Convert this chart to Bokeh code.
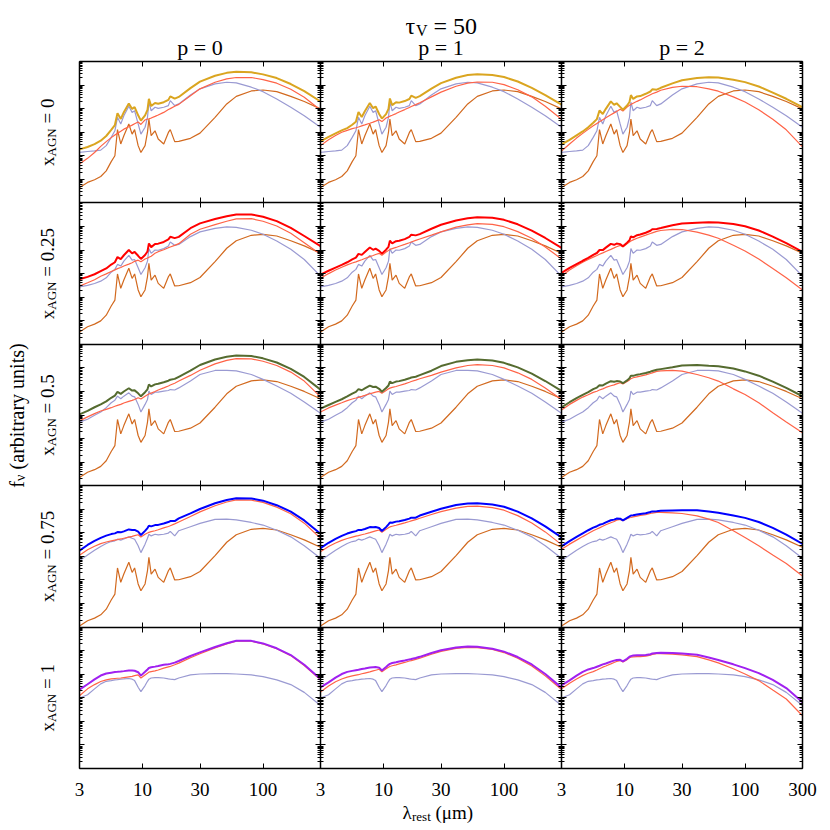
import numpy as np
from bokeh.plotting import figure
from bokeh.models import (Range1d, LogScale, LogAxis, FixedTicker, Label,
                          CustomJSTickFormatter)
from bokeh.embed import file_html
from bokeh.resources import INLINE

# ---------------- data (log10 of f_nu, arbitrary units; each panel spans 6 decades) ----------
wavelength = [3, 3.5, 4, 4.5, 5, 5.5, 5.9, 6.2, 6.6, 7.0, 7.7, 8.2, 8.6, 9.2, 9.7,
              10.5, 11.0, 11.3, 11.8, 12.7, 13.5, 15, 16.4, 17, 18.5, 20, 25, 30,
              40, 50, 60, 80, 100, 130, 170, 220, 300]

p_labels = ["0", "1", "2"]
xagn_labels = ["0", "0.25", "0.5", "0.75", "1"]
x_tick_values = [3, 10, 30, 100, 300]
x_tick_labels = ["3", "10", "30", "100", "300"]

sb_template = [0.65, 0.87, 0.98, 1.12, 1.36, 1.75, 2.0, 3.11, 2.5, 2.85, 3.35, 2.92, 3.11,
               2.43, 2.14, 2.43, 3.0, 3.56, 2.85, 3.06, 2.71, 2.5, 2.99, 3.11, 2.6, 2.61,
               2.74, 2.96, 3.63, 4.2, 4.52, 4.75, 4.79, 4.72, 4.52, 4.3, 3.99]
sb_row_offset = [0.0, -0.125, -0.30, -0.60, None]

lav_row0 = [2.14, 2.18, 2.21, 2.24, 2.43, 2.78, 3.06, 3.63, 3.35, 3.70, 4.10, 3.84, 3.91,
            3.35, 2.92, 3.21, 3.63, 4.27, 3.91, 4.06, 4.01, 4.06, 4.13, 4.34, 4.13, 4.20,
            4.58, 4.84, 5.05, 5.12, 5.09, 4.91, 4.72, 4.41, 4.06, 3.70, 3.21]
lav_row1 = [2.44, 2.50, 2.58, 2.68, 2.82, 3.06, 3.18, 3.39, 3.32, 3.53, 3.77, 3.57, 3.60,
            3.25, 2.96, 3.25, 3.53, 4.06, 3.86, 4.00, 3.99, 4.06, 4.17, 4.34, 4.20, 4.24,
            4.57, 4.77, 4.92, 4.98, 4.96, 4.84, 4.67, 4.38, 4.03, 3.60, 2.89]
lav_row2 = [2.70, 2.82, 2.99, 3.13, 3.31, 3.52, 3.63, 3.80, 3.69, 3.80, 3.94, 3.80, 3.77,
            3.45, 3.13, 3.45, 3.66, 4.01, 3.87, 3.97, 3.97, 4.01, 4.04, 4.08, 4.06, 4.15,
            4.44, 4.72, 4.89, 4.89, 4.87, 4.72, 4.51, 4.23, 3.92, 3.55, 3.07]
lav_row3 = [2.81, 3.06, 3.26, 3.42, 3.55, 3.63, 3.66, 3.73, 3.69, 3.74, 3.83, 3.77, 3.73,
            3.45, 3.16, 3.52, 3.77, 3.94, 3.87, 3.94, 3.91, 3.94, 3.99, 4.06, 3.87, 4.09,
            4.26, 4.40, 4.57, 4.58, 4.55, 4.44, 4.33, 4.11, 3.83, 3.45, 2.92]
lav_row4 = [2.99, 3.13, 3.38, 3.59, 3.70, 3.73, 3.76, 3.77, 3.79, 3.80, 3.82, 3.79, 3.73,
            3.45, 3.26, 3.52, 3.70, 3.79, 3.84, 3.86, 3.86, 3.84, 3.80, 3.79, 3.77, 3.84,
            3.97, 4.01, 4.03, 4.03, 4.01, 3.97, 3.90, 3.76, 3.56, 3.23, 2.67]

tom_r0_p0 = [1.65, 1.89, 2.14, 2.40, 2.60, 2.77, 2.88, 2.95, 3.04, 3.13, 3.23, 3.30, 3.36,
             3.43, 3.33, 3.52, 3.56, 3.57, 3.60, 3.67, 3.73, 3.84, 3.96, 4.00, 4.10, 4.18,
             4.55, 4.84, 5.12, 5.26, 5.32, 5.32, 5.23, 5.08, 4.82, 4.48, 3.94]
tom_r0_p1 = [2.43, 2.68, 2.86, 3.00, 3.08, 3.15, 3.19, 3.22, 3.27, 3.31, 3.38, 3.43, 3.47,
             3.53, 3.45, 3.60, 3.65, 3.68, 3.72, 3.79, 3.86, 3.96, 4.05, 4.09, 4.17, 4.25,
             4.50, 4.70, 4.95, 5.08, 5.13, 5.12, 5.02, 4.80, 4.50, 4.10, 3.55]
tom_r0_p2 = [2.20, 2.50, 2.75, 2.95, 3.12, 3.27, 3.37, 3.44, 3.53, 3.61, 3.74, 3.82, 3.88,
             3.97, 3.90, 4.07, 4.14, 4.18, 4.23, 4.31, 4.37, 4.49, 4.59, 4.63, 4.70, 4.78,
             4.90, 4.95, 4.93, 4.84, 4.74, 4.50, 4.28, 3.95, 3.55, 3.10, 2.38]
tom_r1_p0 = [2.47, 2.61, 2.74, 2.89, 2.99, 3.09, 3.16, 3.21, 3.26, 3.32, 3.40, 3.46, 3.52,
             3.57, 3.50, 3.62, 3.66, 3.69, 3.74, 3.86, 3.93, 4.01, 4.10, 4.13, 4.20, 4.27,
             4.67, 4.88, 5.08, 5.22, 5.32, 5.33, 5.22, 5.02, 4.71, 4.31, 3.82]
tom_r1_p1 = [2.80, 3.00, 3.15, 3.27, 3.37, 3.45, 3.50, 3.54, 3.59, 3.64, 3.72, 3.77, 3.81,
             3.86, 3.78, 3.92, 3.98, 4.02, 4.06, 4.11, 4.16, 4.24, 4.31, 4.34, 4.41, 4.47,
             4.63, 4.77, 4.97, 5.07, 5.12, 5.09, 4.99, 4.78, 4.50, 4.13, 3.62]
tom_r1_p2 = [2.90, 3.15, 3.33, 3.48, 3.60, 3.70, 3.77, 3.82, 3.88, 3.94, 4.03, 4.09, 4.14,
             4.20, 4.13, 4.27, 4.34, 4.38, 4.43, 4.50, 4.55, 4.63, 4.70, 4.73, 4.79, 4.83,
             4.88, 4.87, 4.76, 4.63, 4.50, 4.20, 3.96, 3.62, 3.22, 2.82, 2.30]
tom_r2_p0 = [2.75, 2.92, 3.06, 3.17, 3.24, 3.31, 3.37, 3.41, 3.45, 3.51, 3.58, 3.62, 3.66,
             3.73, 3.68, 3.80, 3.86, 3.89, 3.93, 4.00, 4.06, 4.15, 4.23, 4.27, 4.35, 4.44,
             4.68, 4.90, 5.17, 5.32, 5.39, 5.38, 5.28, 5.10, 4.82, 4.44, 3.77]
tom_r2_p1 = [3.13, 3.30, 3.42, 3.52, 3.61, 3.68, 3.72, 3.75, 3.79, 3.83, 3.90, 3.94, 3.97,
             4.00, 3.92, 4.04, 4.11, 4.14, 4.17, 4.21, 4.25, 4.32, 4.39, 4.42, 4.48, 4.54,
             4.68, 4.82, 5.00, 5.10, 5.14, 5.10, 5.00, 4.79, 4.51, 4.15, 3.66]
tom_r2_p2 = [3.21, 3.45, 3.62, 3.76, 3.86, 3.96, 4.01, 4.06, 4.11, 4.17, 4.24, 4.28, 4.32,
             4.37, 4.32, 4.42, 4.49, 4.54, 4.58, 4.62, 4.65, 4.70, 4.76, 4.79, 4.85, 4.87,
             4.89, 4.86, 4.72, 4.58, 4.44, 4.11, 3.87, 3.52, 3.10, 2.70, 2.25]
tom_r3_p0 = [3.05, 3.28, 3.43, 3.54, 3.61, 3.66, 3.69, 3.71, 3.74, 3.77, 3.82, 3.85, 3.88,
             3.92, 3.82, 3.94, 3.99, 4.02, 4.05, 4.09, 4.13, 4.21, 4.27, 4.30, 4.38, 4.46,
             4.69, 4.89, 5.15, 5.31, 5.40, 5.39, 5.29, 5.09, 4.81, 4.41, 3.77]
tom_r3_p1 = [3.20, 3.42, 3.57, 3.68, 3.76, 3.82, 3.86, 3.88, 3.92, 3.95, 4.01, 4.05, 4.08,
             4.12, 4.02, 4.15, 4.22, 4.25, 4.28, 4.32, 4.36, 4.42, 4.48, 4.51, 4.56, 4.62,
             4.78, 4.90, 5.05, 5.12, 5.13, 5.07, 4.96, 4.73, 4.42, 4.04, 3.50]
tom_r3_p2 = [3.30, 3.52, 3.69, 3.84, 3.97, 4.09, 4.16, 4.21, 4.28, 4.34, 4.43, 4.48, 4.54,
             4.57, 4.51, 4.60, 4.64, 4.65, 4.68, 4.71, 4.74, 4.77, 4.82, 4.84, 4.87, 4.87,
             4.85, 4.82, 4.72, 4.58, 4.44, 4.09, 3.80, 3.45, 3.06, 2.70, 2.17]
tom_r4_p0 = [3.09, 3.38, 3.56, 3.69, 3.76, 3.80, 3.82, 3.83, 3.84, 3.86, 3.89, 3.91, 3.94,
             3.97, 3.84, 3.97, 4.04, 4.09, 4.11, 4.14, 4.18, 4.26, 4.31, 4.33, 4.40, 4.47,
             4.70, 4.87, 5.12, 5.29, 5.40, 5.40, 5.29, 5.08, 4.79, 4.37, 3.76]
tom_r4_p1 = [3.25, 3.50, 3.68, 3.80, 3.88, 3.93, 3.96, 3.98, 4.02, 4.05, 4.10, 4.14, 4.17,
             4.21, 4.10, 4.23, 4.30, 4.33, 4.36, 4.40, 4.44, 4.50, 4.56, 4.58, 4.63, 4.68,
             4.85, 4.97, 5.10, 5.14, 5.13, 5.05, 4.92, 4.68, 4.35, 3.93, 3.35]
tom_r4_p2 = [3.38, 3.62, 3.80, 3.94, 4.04, 4.11, 4.18, 4.23, 4.30, 4.35, 4.44, 4.50, 4.54,
             4.58, 4.52, 4.62, 4.70, 4.72, 4.74, 4.75, 4.75, 4.77, 4.81, 4.84, 4.87, 4.87,
             4.85, 4.82, 4.75, 4.61, 4.48, 4.23, 4.01, 3.73, 3.33, 2.95, 2.24]

lav_rows = [lav_row0, lav_row1, lav_row2, lav_row3, lav_row4]
tom_panels = [[tom_r0_p0, tom_r0_p1, tom_r0_p2],
              [tom_r1_p0, tom_r1_p1, tom_r1_p2],
              [tom_r2_p0, tom_r2_p1, tom_r2_p2],
              [tom_r3_p0, tom_r3_p1, tom_r3_p2],
              [tom_r4_p0, tom_r4_p1, tom_r4_p2]]

total_colors = ["#DAA520", "#FF0000", "#556B2F", "#0000FF", "#A020F0"]
sb_color, lav_color, tom_color = "#D2691E", "#9A9AD2", "#FF6347"

# ---------------- geometry (canvas pixels) ----------------
NROW, NCOL, DEC = 5, 3, 6
W, H = 822, 828
PX_L, PX_R, PX_T, PX_B = 79, 802, 61, 768          # panel block edges
XDEC = (PX_R - PX_L) / (2 * NCOL)                  # px per decade in x
YDEC = (PX_B - PX_T) / (DEC * NROW)                # px per decade in y
FONT = "Liberation Serif"

x_lo = 3 * 10 ** (-PX_L / XDEC)
x_hi = 3 * 100 ** NCOL * 10 ** ((W - PX_R) / XDEC)
y_lo = 10 ** (-(H - PX_B) / YDEC)
y_hi = 10 ** (DEC * NROW + PX_T / YDEC)

p = figure(width=W, height=H, x_axis_type="log", y_axis_type="log",
           x_axis_location=None, y_axis_location=None,
           x_range=Range1d(x_lo, x_hi), y_range=Range1d(y_lo, y_hi),
           output_backend="svg", toolbar_location=None, min_border=0)
p.grid.visible = False
p.outline_line_color = None
p.background_fill_color = "white"
p.border_fill_color = "white"

p.extra_x_ranges = {f"c{j}": Range1d(x_lo / 100 ** j, x_hi / 100 ** j) for j in range(NCOL)}
p.extra_x_scales = {f"c{j}": LogScale() for j in range(NCOL)}
p.extra_y_ranges = {f"r{r}": Range1d(y_lo / 10.0 ** (DEC * (NROW - 1 - r)),
                                     y_hi / 10.0 ** (DEC * (NROW - 1 - r)))
                    for r in range(NROW)}
p.extra_y_scales = {f"r{r}": LogScale() for r in range(NROW)}

wl = np.array(wavelength, dtype=float)
for r in range(NROW):
    for j in range(NCOL):
        kw = dict(x_range_name=f"c{j}", y_range_name=f"r{r}")
        comps = []
        if sb_row_offset[r] is not None:
            sb = 10.0 ** (np.array(sb_template) + sb_row_offset[r])
            p.line(wl, sb, line_color=sb_color, line_width=1.2, **kw)
            comps.append(sb)
        lav = 10.0 ** np.array(lav_rows[r])
        tom = 10.0 ** np.array(tom_panels[r][j])
        p.line(wl, lav, line_color=lav_color, line_width=1.2, **kw)
        p.line(wl, tom, line_color=tom_color, line_width=1.2, **kw)
        total = np.sum(comps + [lav, tom], axis=0)
        p.line(wl, total, line_color=total_colors[r], line_width=2.0, **kw)

# ---------------- axes (panel frames) ----------------
y_major = [10.0 ** k for k in range(DEC * NROW + 1)]
y_minor = [m * 10.0 ** k for k in range(DEC * NROW) for m in range(2, 10)]
x_global = [t * 100 ** j for j in range(NCOL) for t in x_tick_values[:-1]] + \
           [x_tick_values[-1] * 100 ** (NCOL - 1)]
x_global_labels = [l for j in range(NCOL) for l in x_tick_labels[:-1]] + [x_tick_labels[-1]]
x_bounds = (x_tick_values[0], x_tick_values[-1] * 100 ** (NCOL - 1))
y_bounds = (1.0, 10.0 ** (DEC * NROW))

blank = CustomJSTickFormatter(code="return '';")
xfmt = CustomJSTickFormatter(args=dict(vals=x_global, labs=x_global_labels), code="""
for (let i = 0; i < vals.length; i++) {
  if (Math.abs(Math.log10(tick) - Math.log10(vals[i])) < 1e-6) return labs[i];
}
return '';
""")

def style(ax, tin, tout, mtin, mtout):
    ax.major_tick_in = tin
    ax.major_tick_out = tout
    ax.minor_tick_in = mtin
    ax.minor_tick_out = mtout
    ax.major_tick_line_color = "black"
    ax.minor_tick_line_color = "black"
    ax.axis_line_color = "black"
    ax.axis_line_width = 1.5

# vertical boundaries
xb_list = [x_tick_values[0] * 100 ** j for j in range(NCOL)] + [x_bounds[1]]
for k, xb in enumerate(xb_list):
    ax = LogAxis(ticker=FixedTicker(ticks=y_major, minor_ticks=y_minor), formatter=blank,
                 fixed_location=xb, bounds=y_bounds)
    if k == 0:
        style(ax, 5, 0, 3, 0); side = "left"
    elif k == len(xb_list) - 1:
        style(ax, 5, 0, 3, 0); side = "right"
    else:
        style(ax, 5, 5, 3, 3); side = "left"
    p.add_layout(ax, side)

# horizontal boundaries
for r in range(NROW + 1):
    yb = 10.0 ** (DEC * r)
    ax = LogAxis(ticker=FixedTicker(ticks=x_global, minor_ticks=[]),
                 formatter=xfmt if r == 0 else blank, fixed_location=yb, bounds=x_bounds)
    if r == 0:
        style(ax, 5, 0, 0, 0); side = "below"
        ax.major_label_text_font = FONT
        ax.major_label_text_font_size = "19px"
        ax.major_label_text_color = "black"
        ax.major_label_standoff = 14
    elif r == NROW:
        style(ax, 5, 0, 0, 0); side = "above"
    else:
        style(ax, 5, 5, 0, 0); side = "below"
    p.add_layout(ax, side)

# ---------------- texts (canvas pixel positions) ----------------
def lab(text, px, py, size, align="left", baseline="alphabetic", angle=0.0):
    p.add_layout(Label(x=px, y=H - py, x_units="screen", y_units="screen",
                       text=text, text_font=FONT, text_font_size=f"{size}px",
                       text_align=align, text_baseline=baseline, angle=angle,
                       text_color="black"))

def rotated(pieces, yc, xc):
    """pieces: (text, size, x-shift, advance); laid out bottom-to-top, centred on yc."""
    total = sum(pc[3] for pc in pieces)
    y = yc + total / 2
    for text, size, dx, adv in pieces:
        lab(text, xc + dx, y, size, baseline="middle", angle=np.pi / 2)
        y -= adv

# title  tau_V = 50
lab("\u03c4", 405, 25, 24)
lab("V", 415.6, 30, 16)
lab("= 50", 433, 25, 24)

# column headers
for j, pl in enumerate(p_labels):
    lab(f"p = {pl}", PX_L + 241 * j + 120.5, 47, 22, align="center")

# row labels (rotated)  x_AGN = ...
row_h = (PX_B - PX_T) / NROW
for r, xl in enumerate(xagn_labels):
    yc = PX_T + row_h * (r + 0.5)
    rest = f"= {xl}"
    rest_adv = (0.564 + 0.25 + 0.5 * sum(c.isdigit() for c in xl) + 0.25 * xl.count(".")) * 19
    rotated([("x", 19, 0, 9.5), ("AGN", 13, 4, 28.2 + 4.75), (rest, 19, 0, rest_adv)], yc, 47)

# y axis title  f_nu (arbitrary units)
rotated([("f", 20, 0, 6.7), ("\u03bd", 14, 4, 6.6 + 5.0),
         ("(arbitrary units)", 20, 0, 126.1)], 415, 16)

# x axis title  lambda_rest (um)
lab("\u03bb", 402, 812, 19)
lab("rest", 411.5, 816, 13)
lab("(\u03bcm)", 435, 812, 19)

open("out.html", "w").write(file_html(p, INLINE))
